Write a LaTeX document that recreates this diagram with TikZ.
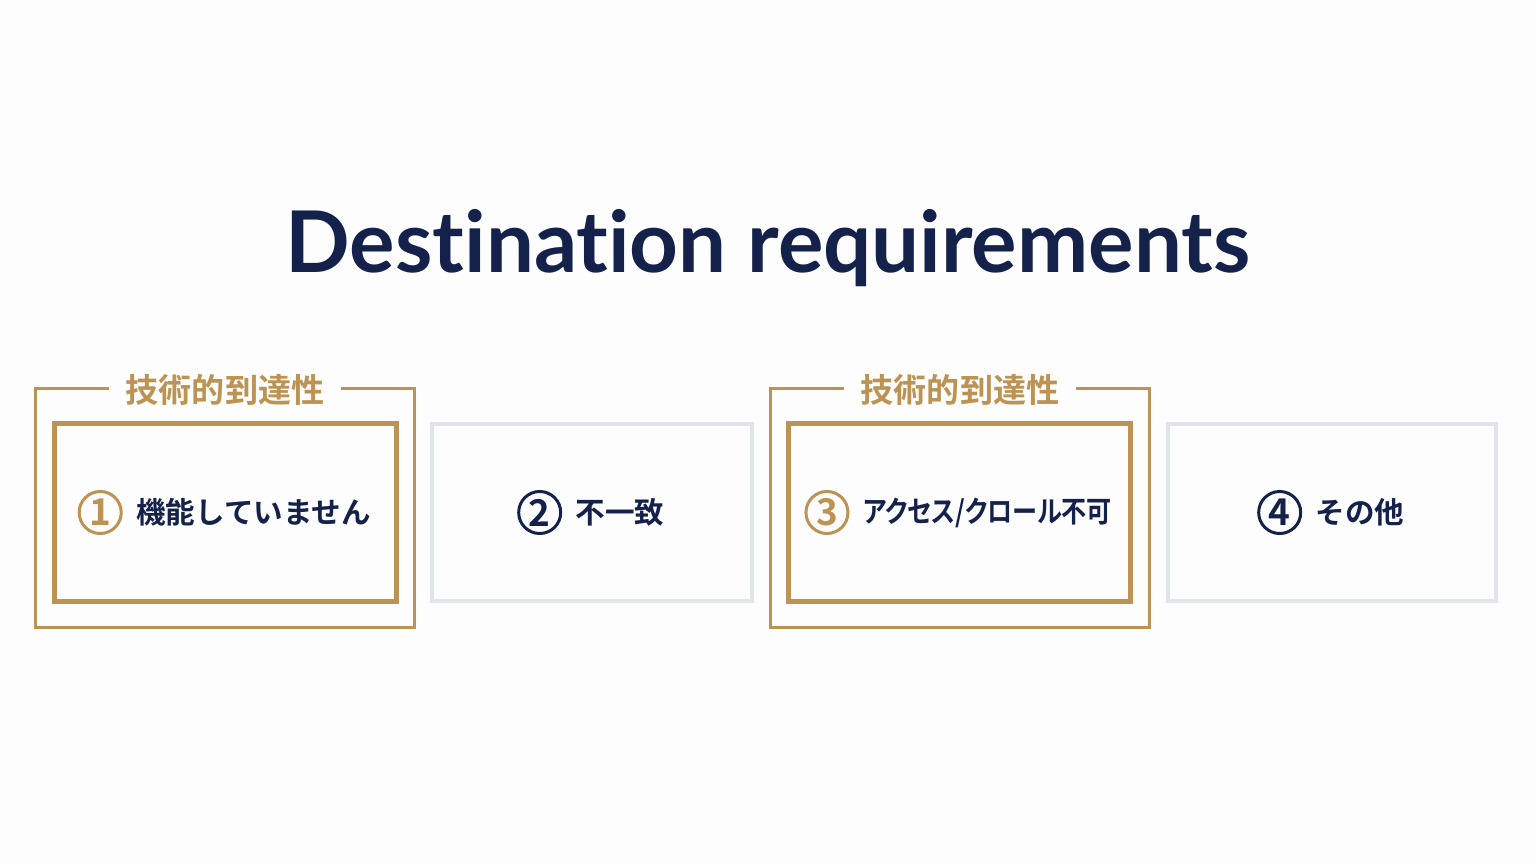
\documentclass[tikz,border=0pt]{standalone}
\usepackage{fontspec}
\setmainfont{Lato}[Ligatures=NoCommon]
\newfontfamily\jpfont{Noto Sans CJK JP}[BoldFont=* Bold]
\newfontfamily\jpprop{Noto Sans CJK JP}[BoldFont=* Bold, RawFeature=+palt]
\usetikzlibrary{positioning}
\definecolor{Navy}{HTML}{14214A}
\definecolor{Gold}{HTML}{BC9352}
\definecolor{Frame}{HTML}{E1E4EB}
\definecolor{Paper}{HTML}{FDFDFD}

\begin{document}
\begin{tikzpicture}[x=0.01cm, y=-0.01cm,
        every node/.append style={inner sep=0pt, outer sep=0pt},
        every circle node/.append style={draw, line width=0.85pt, minimum size=0.42cm}]
      \tikzstyle{card} = [draw, minimum height=1.77cm, line width=1.4pt]
      \tikzstyle{gold card} = [card, draw=Gold, minimum width=3.41cm]
      \tikzstyle{plain card} = [card, draw=Frame, line width=1.1pt]
      \tikzstyle{frame} = [draw=Gold, line width=0.85pt, minimum width=3.78cm, minimum height=2.39cm]
      \tikzstyle{tag} = [font=\jpfont\bfseries\fontsize{9.4}{11}\selectfont, text=Gold, fill=Paper, inner xsep=0.17cm, inner ysep=2pt, yshift=-0.02cm]
      \tikzstyle{word} = [font=\jpfont\bfseries\fontsize{8.4}{10}\selectfont, text=Navy]
      \tikzstyle{num} = [circle, font=\jpfont\bfseries\fontsize{10.5}{12}\selectfont]
      \fill[Paper] (0,0) rectangle (1536,864);
      \useasboundingbox (0,0) rectangle (1536,864);
      \node (title) at (768,273) [anchor=base, font=\bfseries\fontsize{24.2}{28}\selectfont, text=Navy] {Destination requirements};
      % reachability frames
      \node (f1) [frame] at (225,508) {};
      \node (f3) [frame] at (960,508) {};
      \node (g1) [tag] at (f1.north) {技術的到達性};
      \node (g3) [tag] at (f3.north) {技術的到達性};
      % cards
      \node (b1) [gold card] at (225.5,512.5) {};
      \node (b2) [plain card, minimum width=3.19cm] at (592,512.5) {};
      \node (b3) [gold card] at (959.5,512.5) {};
      \node (b4) [plain card, minimum width=3.28cm] at (1332,512.5) {};
      \node (t1) [word, xshift=0.28cm] at (b1) {機能していません};
      \node (n1) [num, draw=Gold, text=Gold, left=0.15cm of t1] {1};
      \node (t2) [word, xshift=0.28cm] at (b2) {不一致};
      \node (n2) [num, draw=Navy, text=Navy, left=0.15cm of t2] {2};
      \node (t3) [word, font=\jpprop\bfseries\fontsize{8.4}{10}\selectfont, xshift=0.28cm] at (b3) {\scalebox{0.85}[1]{アクセス/クロール不可}};
      \node (n3) [num, draw=Gold, text=Gold, left=0.15cm of t3] {3};
      \node (t4) [word, xshift=0.28cm] at (b4) {その他};
      \node (n4) [num, draw=Navy, text=Navy, left=0.15cm of t4] {4};
    \end{tikzpicture}
\end{document}
